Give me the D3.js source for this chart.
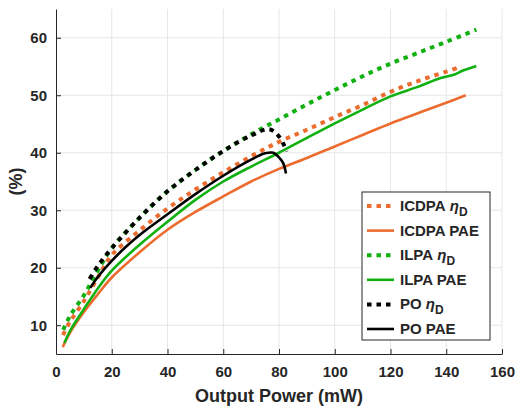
<!DOCTYPE html>
<html>
<head>
<meta charset="utf-8">
<script src="https://cdn.jsdelivr.net/npm/d3@7"></script>
<style>
  body { margin: 0; background: #fff; }
  text { font-family: "Liberation Sans", Arial, sans-serif; font-weight: bold; fill: #262626; }
</style>
</head>
<body>
<div id="chart"></div>
<script>
// Data: [output power (mW), efficiency (%)]
const icdpaDrain = [[2.5,8.3],[5,10.6],[10,14.2],[15,18.3],[20,22.2],[30,26.5],[40,30.3],[50,33.6],[60,36.6],[70,39.4],[80,41.9],[90,44],[100,46.2],[110,48.3],[120,50.6],[130,52.5],[140,54.1],[145.5,55]];
const icdpaPae   = [[2.4,6.2],[5,8.7],[10,12.3],[15,15.4],[20,18.3],[30,22.7],[40,26.6],[50,29.7],[60,32.4],[70,35],[80,37.2],[90,39.1],[100,41.1],[110,43.1],[120,45.1],[130,46.9],[140,48.7],[147,50]];
const ilpaDrain  = [[2.6,9.2],[5,11.6],[10,15.2],[15,19.5],[20,23.4],[30,28.7],[40,33.3],[50,37],[60,40.3],[70,43.2],[80,45.8],[90,48.4],[100,50.9],[110,53.3],[120,55.5],[130,57.4],[140,59.3],[150.8,61.4]];
const ilpaPae    = [[3,6.9],[5,9],[10,12.8],[15,16.4],[20,19.5],[30,24],[40,28],[50,31.8],[60,35],[70,37.6],[80,40],[90,42.6],[100,45.1],[110,47.5],[120,49.8],[130,51.5],[138,53],[143,53.6],[146,54.3],[150.8,55.1]];
const poDrain    = [[12,18],[15,20.3],[20,23.4],[30,28.7],[40,33.3],[50,37],[60,40.3],[70,43],[76.5,44.1],[79.5,43.1],[81.5,41.6],[82.7,40.2]];
const poPae      = [[12.3,16.5],[15,18.4],[20,21.2],[25,23.6],[30,25.7],[40,29.3],[50,32.8],[60,36],[70,38.8],[75,39.9],[78,40],[80,39.2],[81.5,38.2],[82.5,36.4]];

const xTicks = [0, 20, 40, 60, 80, 100, 120, 140, 160];
const yTicks = [10, 20, 30, 40, 50, 60];

const orange = "#ec6c2f";
const green = "#11b011";
const black = "#000000";

const seriesList = [
  {name: "ICDPA", suffix: "eta", values: icdpaDrain, color: orange, dotted: true},
  {name: "ICDPA PAE", suffix: null, values: icdpaPae, color: orange, dotted: false},
  {name: "ILPA", suffix: "eta", values: ilpaDrain, color: green, dotted: true},
  {name: "ILPA PAE", suffix: null, values: ilpaPae, color: green, dotted: false},
  {name: "PO", suffix: "eta", values: poDrain, color: black, dotted: true},
  {name: "PO PAE", suffix: null, values: poPae, color: black, dotted: false}
];

const margin = {top: 9, right: 13, bottom: 56, left: 56};
const width = 515 - margin.left - margin.right;
const height = 410 - margin.top - margin.bottom;

const dashOn = 4.5, dashOff = 5, period = dashOn + dashOff;

const svg = d3.select("#chart")
  .append("svg")
  .attr("width", 515)
  .attr("height", 410)
  .append("g")
  .attr("transform", `translate(${margin.left},${margin.top})`);

const x = d3.scaleLinear().domain([0, 160]).range([0, width]);
const y = d3.scaleLinear().domain([5, 65]).range([height, 0]);

// grid
svg.append("g")
  .selectAll("line")
  .data(xTicks.filter(d => d > 0))
  .join("line")
  .attr("x1", d => x(d)).attr("x2", d => x(d))
  .attr("y1", 0).attr("y2", height)
  .attr("stroke", "#e6e6e6").attr("stroke-width", 1);

svg.append("g")
  .selectAll("line")
  .data(yTicks)
  .join("line")
  .attr("x1", 0).attr("x2", width)
  .attr("y1", d => y(d)).attr("y2", d => y(d))
  .attr("stroke", "#e6e6e6").attr("stroke-width", 1);

// axes (ticks pointing inward, MATLAB style)
const xAxis = svg.append("g")
  .attr("transform", `translate(0,${height})`)
  .call(d3.axisBottom(x).tickValues(xTicks).tickSizeInner(-5).tickSizeOuter(0).tickPadding(12));
const yAxis = svg.append("g")
  .call(d3.axisLeft(y).tickValues(yTicks).tickSizeInner(-5).tickSizeOuter(0).tickPadding(9));

[xAxis, yAxis].forEach(g => {
  g.select(".domain").attr("stroke", "#262626").attr("stroke-width", 1);
  g.selectAll(".tick line").attr("stroke", "#262626");
  g.selectAll(".tick text")
    .style("font-size", "15px")
    .style("font-family", "Liberation Sans, Arial, sans-serif")
    .style("font-weight", "bold")
    .attr("fill", "#262626");
});

// curves
const line = d3.line()
  .x(d => x(d[0]))
  .y(d => y(d[1]))
  .curve(d3.curveCatmullRom.alpha(0.5));

const paths = svg.append("g")
  .selectAll("path")
  .data(seriesList)
  .join("path")
  .attr("d", d => line(d.values))
  .attr("fill", "none")
  .attr("stroke", d => d.color)
  .attr("stroke-width", d => d.dotted ? 4 : 2.6)
  .attr("stroke-dasharray", d => d.dotted ? `${dashOn},${dashOff}` : null);

// PO eta_D runs on top of ILPA eta_D: shift its dots into the green gaps
const greenNode = paths.filter(d => d.name === "ILPA" && d.dotted).node();
const startX = x(poDrain[0][0]);
let lo = 0, hi = greenNode.getTotalLength();
for (let i = 0; i < 40; i++) {
  const mid = (lo + hi) / 2;
  if (greenNode.getPointAtLength(mid).x < startX) lo = mid; else hi = mid;
}
const phase = (((lo - dashOn - dashOff / 2 + dashOn / 2) % period) + period) % period;
paths.filter(d => d.name === "PO" && d.dotted).attr("stroke-dashoffset", phase);

// axis labels
svg.append("text")
  .attr("x", width / 2)
  .attr("y", height + 48)
  .style("text-anchor", "middle")
  .style("font-size", "18px")
  .text("Output Power (mW)");

svg.append("text")
  .attr("transform", "rotate(-90)")
  .attr("x", -height / 2)
  .attr("y", -margin.left + 22)
  .style("text-anchor", "middle")
  .style("font-size", "18px")
  .text("(%)");

// legend
const legend = svg.append("g")
  .attr("transform", `translate(${362 - margin.left},${192 - margin.top})`);

legend.append("rect")
  .attr("width", 128)
  .attr("height", 148)
  .attr("fill", "#fff")
  .attr("stroke", "#262626")
  .attr("stroke-width", 1);

const legendRow = legend.selectAll("g")
  .data(seriesList)
  .join("g")
  .attr("transform", (_, i) => `translate(0,${14 + i * 24.6})`);

legendRow.append("line")
  .attr("x1", 5).attr("x2", 32)
  .attr("y1", 0).attr("y2", 0)
  .attr("stroke", d => d.color)
  .attr("stroke-width", d => d.dotted ? 4 : 2.6)
  .attr("stroke-dasharray", d => d.dotted ? `${dashOn},${dashOff}` : null);

const legendText = legendRow.append("text")
  .attr("x", 38)
  .attr("y", 5)
  .style("font-size", "15px");

legendText.append("tspan").text(d => d.name);
legendText.filter(d => d.suffix === "eta")
  .append("tspan")
  .style("font-style", "italic")
  .text(" \u03b7");
legendText.filter(d => d.suffix === "eta")
  .append("tspan")
  .attr("dy", 5)
  .style("font-size", "12px")
  .text("D");
</script>
</body>
</html>
